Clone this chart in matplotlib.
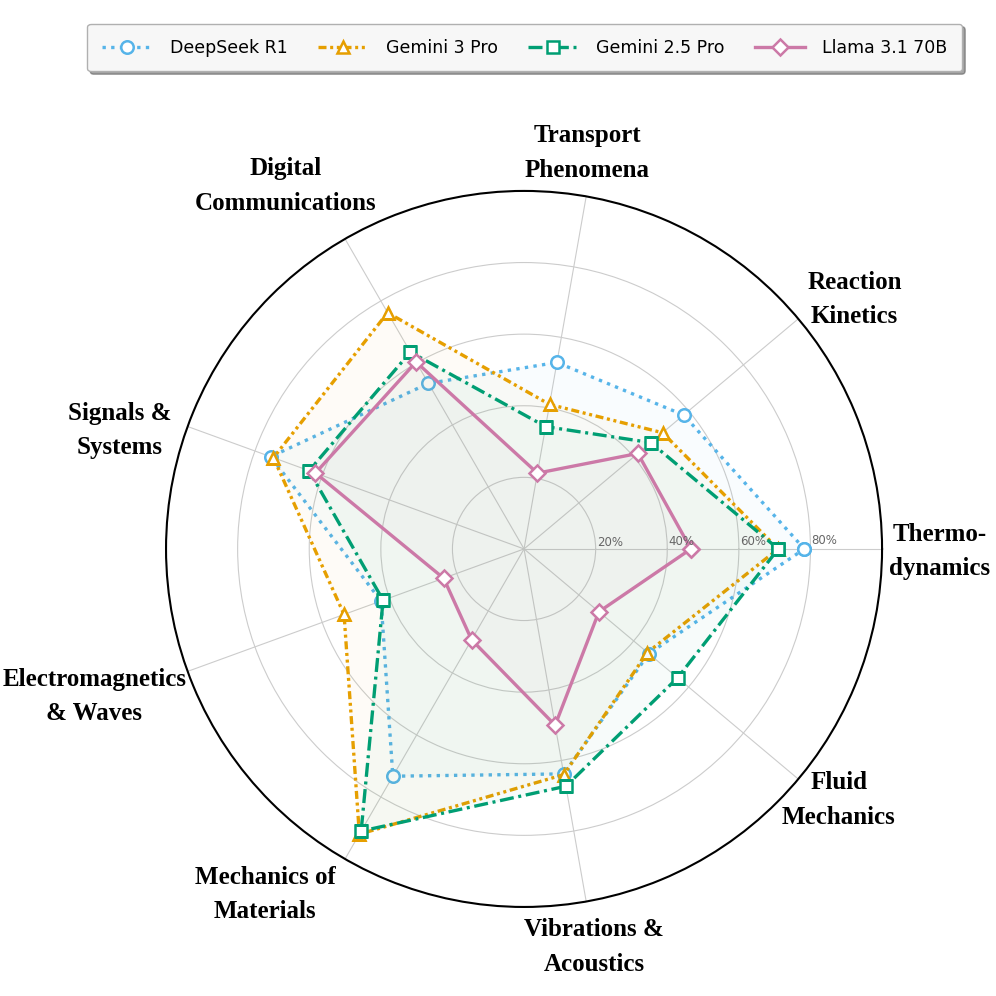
import numpy as np
import matplotlib
matplotlib.use("Agg")
import matplotlib.pyplot as plt

# ---------------- data ----------------
categories = ["Thermo-\ndynamics", "Reaction\nKinetics", "Transport\nPhenomena",
              "Digital\nCommunications", "Signals &\nSystems", "Electromagnetics\n& Waves",
              "Mechanics of\nMaterials", "Vibrations &\nAcoustics", "Fluid\nMechanics"]
series_names = ["DeepSeek R1", "Gemini 3 Pro", "Gemini 2.5 Pro", "Llama 3.1 70B"]
deepseek_r1 = [78.3, 58.2, 52.9, 53.4, 75.3, 42.5, 73.3, 63.8, 45.5]
gemini_3_pro = [71.0, 50.5, 41.0, 76.2, 74.5, 53.5, 92.0, 64.0, 45.0]
gemini_25_pro = [71.0, 46.2, 34.7, 63.5, 63.9, 41.9, 91.0, 67.3, 56.0]
llama_31_70b = [46.6, 41.5, 21.5, 60.3, 62.0, 23.9, 29.3, 50.0, 27.3]
r_ticks = [20, 40, 60, 80]
r_tick_labels = ["20%", "40%", "60%", "80%"]

# ---------------- style ----------------
colors = ["#56B4E9", "#E69F00", "#009E73", "#CC79A7"]
markers = ["o", "^", "s", "D"]
linestyles = [(0, (1, 1.6)), (0, (2.4, 1.1, 0.9, 1.1, 0.9, 1.1)),
              (0, (4.2, 1.4, 0.9, 1.4)), "-"]
# label placement (angle in degrees, radius in data units)
label_theta = [-0.4, 37.0, 80.9, 123.3, 163.7, 199.0, 233.2, 280.0, 321.4]
label_r = [116.1, 115.6, 112.0, 121.3, 117.7, 126.9, 120.6, 112.9, 112.4]

fig = plt.figure(figsize=(9.96, 9.96), dpi=100)
ax = fig.add_axes([0.1667, 0.0894, 0.7189, 0.7189], projection="polar")

n = len(categories)
angles = np.linspace(0, 2 * np.pi, n, endpoint=False)
ang_closed = np.concatenate([angles, angles[:1]])

all_vals = [deepseek_r1, gemini_3_pro, gemini_25_pro, llama_31_70b]
handles = []
for i, (name, vals) in enumerate(zip(series_names, all_vals)):
    v = np.concatenate([vals, vals[:1]])
    ax.fill(ang_closed, v, color=colors[i], alpha=0.03, zorder=2 + i)
    ln, = ax.plot(ang_closed, v, color=colors[i], linestyle=linestyles[i], lw=2.4,
                  marker=markers[i], markersize=9 if markers[i] != "D" else 8,
                  markerfacecolor="white", markeredgecolor=colors[i],
                  markeredgewidth=1.8, zorder=3 + i, label=name)
    handles.append(ln)

ax.set_ylim(0, 100)
ax.set_yticks(r_ticks)
ax.set_yticklabels([])
ax.set_xticks(angles)
ax.set_xticklabels([])
ax.grid(True, color="#cccccc", lw=0.8)
ax.spines["polar"].set_color("black")
ax.spines["polar"].set_linewidth(1.5)
ax.tick_params(axis="both", length=0)

for t, lab in zip(r_ticks, r_tick_labels):
    ax.text(np.deg2rad(0.3), t + 0.3, lab, ha="left", va="bottom", fontsize=8.5,
            color="#666666", zorder=10)

for lab, th, r in zip(categories, label_theta, label_r):
    ax.text(np.deg2rad(th), r, lab, ha="center", va="center", fontsize=18,
            fontweight="bold", family="Liberation Serif", linespacing=1.62,
            clip_on=False)

leg = fig.legend(handles=handles, loc="upper center", bbox_to_anchor=(0.527, 0.976),
                 ncol=4, fontsize=12.5, frameon=True, fancybox=True, shadow=True,
                 handlelength=2.9, handletextpad=1.0, columnspacing=1.75,
                 borderpad=0.85, borderaxespad=0.0, edgecolor="#b0b0b0",
                 facecolor="#f7f7f7", framealpha=1.0)

fig.savefig("out.png", dpi=100, facecolor="white")
